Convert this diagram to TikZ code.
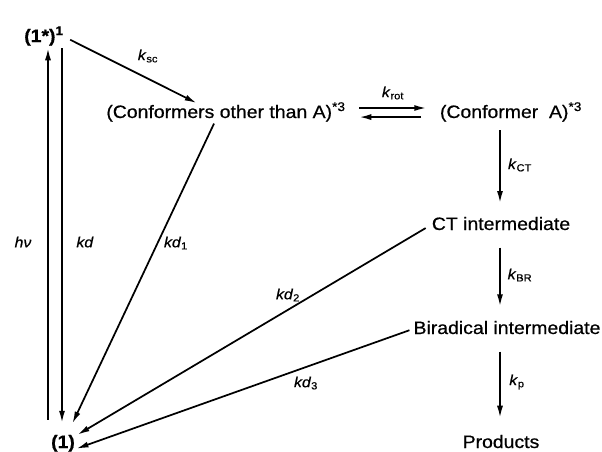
\documentclass[tikz,border=0pt]{standalone}
\usepackage{fontspec}
\setmainfont{Liberation Sans}[FakeStretch=1.08, FakeBold=0.6]
\usetikzlibrary{arrows.meta}

\begin{document}
\begin{tikzpicture}[x=0.75pt,y=-0.75pt,
  state/.style={inner sep=1pt, text height=10pt, text depth=3pt, anchor=base, font=\fontsize{13.5}{16}\selectfont},
  statebold/.style={state, font=\fontsize{13.5}{16}\selectfont\bfseries},
  rate/.style={inner sep=0pt, font=\fontsize{11}{13}\selectfont},
  arr/.style={line width=1.3pt, -{Latex[length=9pt,width=4.5pt]}}]
\useasboundingbox (0,0) rectangle (602,451);

\node[statebold] (s1) at (44,42) {(1*)\textsuperscript{1}};
\node[statebold] (one) at (63,448) {(1)};
\node[state] (conf) at (226,118) {(Conformers other than A)\textsuperscript{*3}};
\node[state] (confA) at (511,118) {(Conformer~ A)\textsuperscript{*3}};
\node[state] (ct) at (501,230) {CT intermediate};
\node[state] (bir) at (507,334) {Biradical intermediate};
\node[state] (prod) at (501,448) {Products};

\coordinate (hvx) at (48,0);
\coordinate (kdx) at (62,0);
\coordinate (col) at (500,0);

\draw[arr, shorten <=10pt, shorten >=0.5pt] (one.north -| hvx) -- (s1.south -| hvx);
\draw[arr, shorten <=0.5pt, shorten >=7.7pt] (s1.south -| kdx) -- (one.north -| kdx);
\draw[arr, shorten <=4pt] (s1.east) -- ([xshift=-22pt]conf.north);
\draw[arr, shorten >=8pt] ([xshift=-9pt]conf.south) -- (one);
\draw[arr, shorten <=4pt, shorten >=1pt] (ct.west) -- (one);
\draw[arr, shorten <=2pt] (bir.west) -- ([yshift=-4pt]one.east);

\draw[arr, shorten <=9pt, shorten >=9pt] ([yshift=4pt]conf.east) -- ([yshift=4pt]confA.west);
\draw[arr, shorten <=13pt, shorten >=9pt] ([yshift=-2.8pt]confA.west) -- ([yshift=-2.8pt]conf.east);

\draw[arr, shorten <=5pt, shorten >=9pt] (confA.south -| col) -- (ct.north -| col);
\draw[arr, shorten <=9pt, shorten >=9.6pt] (ct.south -| col) -- (bir.north -| col);
\draw[arr, shorten <=9pt, shorten >=11.5pt] (bir.south -| col) -- (prod.north -| col);

\node[rate] (lsc) at (148,56) {\textit{k}\textsubscript{sc}};
\node[rate] (lhv) at (23,242) {\textit{hν}};
\node[rate] (lkd) at (85,242) {\textit{kd}};
\node[rate] (lkd1) at (176,243) {\textit{kd}\textsubscript{1}};
\node[rate] (lkd2) at (288,295) {\textit{kd}\textsubscript{2}};
\node[rate] (lkd3) at (306,383) {\textit{kd}\textsubscript{3}};
\node[rate] (lrot) at (393,93) {\textit{k}\textsubscript{rot}};
\node[rate] (lct) at (520,165) {\textit{k}\textsubscript{CT}};
\node[rate] (lbr) at (520,275) {\textit{k}\textsubscript{BR}};
\node[rate] (lp) at (517,382) {\textit{k}\textsubscript{p}};
\end{tikzpicture}
\end{document}
